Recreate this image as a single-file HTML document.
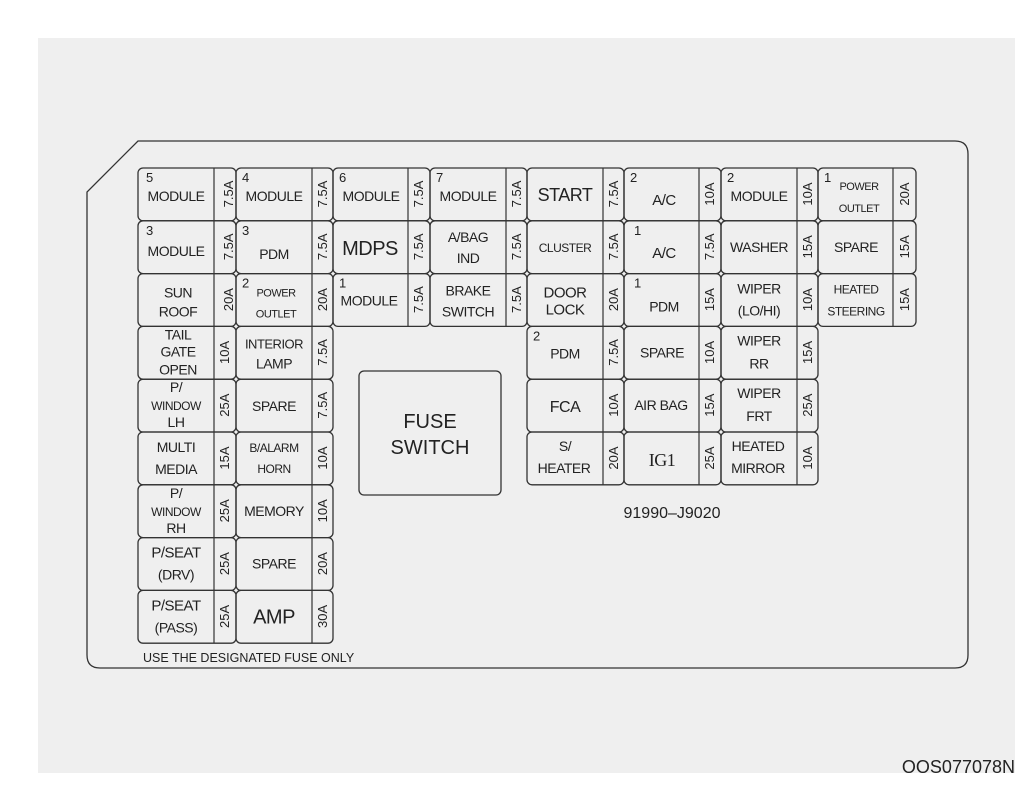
<!DOCTYPE html>
<html><head><meta charset="utf-8"><style>
html,body{margin:0;padding:0;background:#fff;}
svg{display:block;}
text{font-family:"Liberation Sans",sans-serif;fill:#222;}
.l{font-size:14px;text-anchor:middle;letter-spacing:-0.5px}
.s{font-size:13px}
.r{font-size:13px;text-anchor:middle}
rect.c{fill:none;stroke:#333;stroke-width:1.3}
line{stroke:#333;stroke-width:1.2}
</style></head><body>
<svg width="1029" height="803" viewBox="0 0 1029 803" xmlns="http://www.w3.org/2000/svg">
<rect x="38" y="38" width="977" height="735" fill="#efefef"/>
<path d="M138,141 L955,141 Q968,141 968,154 L968,655 Q968,668 955,668 L100,668 Q87,668 87,655 L87,192 Z" fill="none" stroke="#333" stroke-width="1.3"/>

<!-- ROW 0 (y=168) -->
<g transform="translate(138,168)"><rect class="c" width="98" height="52.8" rx="5"/><line x1="76" y1="0" x2="76" y2="52.8"/><text class="s" x="8" y="14">5</text><text class="l" x="38" y="33">MODULE</text><text class="r" transform="translate(91,26) rotate(-90)" y="4">7.5A</text></g>
<g transform="translate(236,168)"><rect class="c" width="97" height="52.8" rx="5"/><line x1="76" y1="0" x2="76" y2="52.8"/><text class="s" x="6" y="14">4</text><text class="l" x="38" y="33">MODULE</text><text class="r" transform="translate(87,26) rotate(-90)" y="4">7.5A</text></g>
<g transform="translate(333,168)"><rect class="c" width="97" height="52.8" rx="5"/><line x1="75" y1="0" x2="75" y2="52.8"/><text class="s" x="6" y="14">6</text><text class="l" x="38" y="33">MODULE</text><text class="r" transform="translate(86,26) rotate(-90)" y="4">7.5A</text></g>
<g transform="translate(430,168)"><rect class="c" width="97" height="52.8" rx="5"/><line x1="76" y1="0" x2="76" y2="52.8"/><text class="s" x="6" y="14">7</text><text class="l" x="38" y="33">MODULE</text><text class="r" transform="translate(87,26) rotate(-90)" y="4">7.5A</text></g>
<g transform="translate(527,168)"><rect class="c" width="97" height="52.8" rx="5"/><line x1="76" y1="0" x2="76" y2="52.8"/><text class="l" x="38" y="33" style="font-size:18px">START</text><text class="r" transform="translate(87,26) rotate(-90)" y="4">7.5A</text></g>
<g transform="translate(624,168)"><rect class="c" width="97" height="52.8" rx="5"/><line x1="75" y1="0" x2="75" y2="52.8"/><text class="s" x="6" y="14">2</text><text class="l" x="40" y="37" style="font-size:15px">A/C</text><text class="r" transform="translate(86,26) rotate(-90)" y="4">10A</text></g>
<g transform="translate(721,168)"><rect class="c" width="97" height="52.8" rx="5"/><line x1="76" y1="0" x2="76" y2="52.8"/><text class="s" x="6" y="14">2</text><text class="l" x="38" y="33">MODULE</text><text class="r" transform="translate(87,26) rotate(-90)" y="4">10A</text></g>
<g transform="translate(818,168)"><rect class="c" width="98" height="52.8" rx="5"/><line x1="75" y1="0" x2="75" y2="52.8"/><text class="s" x="6" y="14">1</text><text class="l" x="41" y="22" style="font-size:11px">POWER</text><text class="l" x="41" y="44" style="font-size:11px">OUTLET</text><text class="r" transform="translate(87,26) rotate(-90)" y="4">20A</text></g>

<!-- ROW 1 (y=220.8) -->
<g transform="translate(138,220.8)"><rect class="c" width="98" height="52.8" rx="5"/><line x1="76" y1="0" x2="76" y2="52.8"/><text class="s" x="8" y="14">3</text><text class="l" x="38" y="35">MODULE</text><text class="r" transform="translate(91,26) rotate(-90)" y="4">7.5A</text></g>
<g transform="translate(236,220.8)"><rect class="c" width="97" height="52.8" rx="5"/><line x1="76" y1="0" x2="76" y2="52.8"/><text class="s" x="6" y="14">3</text><text class="l" x="38" y="38">PDM</text><text class="r" transform="translate(87,26) rotate(-90)" y="4">7.5A</text></g>
<g transform="translate(333,220.8)"><rect class="c" width="97" height="52.8" rx="5"/><line x1="75" y1="0" x2="75" y2="52.8"/><text class="l" x="37" y="34" style="font-size:20px">MDPS</text><text class="r" transform="translate(86,26) rotate(-90)" y="4">7.5A</text></g>
<g transform="translate(430,220.8)"><rect class="c" width="97" height="52.8" rx="5"/><line x1="76" y1="0" x2="76" y2="52.8"/><text class="l" x="38" y="21">A/BAG</text><text class="l" x="38" y="42">IND</text><text class="r" transform="translate(87,26) rotate(-90)" y="4">7.5A</text></g>
<g transform="translate(527,220.8)"><rect class="c" width="97" height="52.8" rx="5"/><line x1="76" y1="0" x2="76" y2="52.8"/><text class="l" x="38" y="31" style="font-size:12px">CLUSTER</text><text class="r" transform="translate(87,26) rotate(-90)" y="4">7.5A</text></g>
<g transform="translate(624,220.8)"><rect class="c" width="97" height="52.8" rx="5"/><line x1="75" y1="0" x2="75" y2="52.8"/><text class="s" x="10" y="14">1</text><text class="l" x="40" y="37" style="font-size:15px">A/C</text><text class="r" transform="translate(86,26) rotate(-90)" y="4">7.5A</text></g>
<g transform="translate(721,220.8)"><rect class="c" width="97" height="52.8" rx="5"/><line x1="76" y1="0" x2="76" y2="52.8"/><text class="l" x="38" y="31">WASHER</text><text class="r" transform="translate(87,26) rotate(-90)" y="4">15A</text></g>
<g transform="translate(818,220.8)"><rect class="c" width="98" height="52.8" rx="5"/><line x1="75" y1="0" x2="75" y2="52.8"/><text class="l" x="38" y="31">SPARE</text><text class="r" transform="translate(87,26) rotate(-90)" y="4">15A</text></g>

<!-- ROW 2 (y=273.6) -->
<g transform="translate(138,273.6)"><rect class="c" width="98" height="52.8" rx="5"/><line x1="76" y1="0" x2="76" y2="52.8"/><text class="l" x="40" y="24">SUN</text><text class="l" x="40" y="43">ROOF</text><text class="r" transform="translate(91,26) rotate(-90)" y="4">20A</text></g>
<g transform="translate(236,273.6)"><rect class="c" width="97" height="52.8" rx="5"/><line x1="76" y1="0" x2="76" y2="52.8"/><text class="s" x="6" y="14">2</text><text class="l" x="40" y="23" style="font-size:11px">POWER</text><text class="l" x="40" y="44" style="font-size:11px">OUTLET</text><text class="r" transform="translate(87,26) rotate(-90)" y="4">20A</text></g>
<g transform="translate(333,273.6)"><rect class="c" width="97" height="52.8" rx="5"/><line x1="75" y1="0" x2="75" y2="52.8"/><text class="s" x="6" y="14">1</text><text class="l" x="36" y="32">MODULE</text><text class="r" transform="translate(86,26) rotate(-90)" y="4">7.5A</text></g>
<g transform="translate(430,273.6)"><rect class="c" width="97" height="52.8" rx="5"/><line x1="76" y1="0" x2="76" y2="52.8"/><text class="l" x="38" y="22">BRAKE</text><text class="l" x="38" y="43">SWITCH</text><text class="r" transform="translate(87,26) rotate(-90)" y="4">7.5A</text></g>
<g transform="translate(527,273.6)"><rect class="c" width="97" height="52.8" rx="5"/><line x1="76" y1="0" x2="76" y2="52.8"/><text class="l" x="38" y="24" style="font-size:15px">DOOR</text><text class="l" x="38" y="41" style="font-size:15px">LOCK</text><text class="r" transform="translate(87,26) rotate(-90)" y="4">20A</text></g>
<g transform="translate(624,273.6)"><rect class="c" width="97" height="52.8" rx="5"/><line x1="75" y1="0" x2="75" y2="52.8"/><text class="s" x="10" y="14">1</text><text class="l" x="40" y="38">PDM</text><text class="r" transform="translate(86,26) rotate(-90)" y="4">15A</text></g>
<g transform="translate(721,273.6)"><rect class="c" width="97" height="52.8" rx="5"/><line x1="76" y1="0" x2="76" y2="52.8"/><text class="l" x="38" y="20">WIPER</text><text class="l" x="38" y="42">(LO/HI)</text><text class="r" transform="translate(87,26) rotate(-90)" y="4">10A</text></g>
<g transform="translate(818,273.6)"><rect class="c" width="98" height="52.8" rx="5"/><line x1="75" y1="0" x2="75" y2="52.8"/><text class="l" x="38" y="20" style="font-size:12px">HEATED</text><text class="l" x="38" y="42" style="font-size:12px">STEERING</text><text class="r" transform="translate(87,26) rotate(-90)" y="4">15A</text></g>

<!-- ROW 3 (y=326.4) -->
<g transform="translate(138,326.4)"><rect class="c" width="98" height="52.8" rx="5"/><line x1="76" y1="0" x2="76" y2="52.8"/><text class="l" x="40" y="13">TAIL</text><text class="l" x="40" y="30">GATE</text><text class="l" x="40" y="48">OPEN</text><text class="r" transform="translate(87,26) rotate(-90)" y="4">10A</text></g>
<g transform="translate(236,326.4)"><rect class="c" width="97" height="52.8" rx="5"/><line x1="76" y1="0" x2="76" y2="52.8"/><text class="l" x="38" y="22" style="font-size:13px">INTERIOR</text><text class="l" x="38" y="42">LAMP</text><text class="r" transform="translate(87,26) rotate(-90)" y="4">7.5A</text></g>
<g transform="translate(527,326.4)"><rect class="c" width="97" height="52.8" rx="5"/><line x1="76" y1="0" x2="76" y2="52.8"/><text class="s" x="6" y="14">2</text><text class="l" x="38" y="32">PDM</text><text class="r" transform="translate(87,26) rotate(-90)" y="4">7.5A</text></g>
<g transform="translate(624,326.4)"><rect class="c" width="97" height="52.8" rx="5"/><line x1="75" y1="0" x2="75" y2="52.8"/><text class="l" x="38" y="31">SPARE</text><text class="r" transform="translate(86,26) rotate(-90)" y="4">10A</text></g>
<g transform="translate(721,326.4)"><rect class="c" width="97" height="52.8" rx="5"/><line x1="76" y1="0" x2="76" y2="52.8"/><text class="l" x="38" y="19">WIPER</text><text class="l" x="38" y="42">RR</text><text class="r" transform="translate(87,26) rotate(-90)" y="4">15A</text></g>

<!-- ROW 4 (y=379.2) -->
<g transform="translate(138,379.2)"><rect class="c" width="98" height="52.8" rx="5"/><line x1="76" y1="0" x2="76" y2="52.8"/><text class="l" x="38" y="13">P/</text><text class="l" x="38" y="31" style="font-size:12px">WINDOW</text><text class="l" x="38" y="48">LH</text><text class="r" transform="translate(87,26) rotate(-90)" y="4">25A</text></g>
<g transform="translate(236,379.2)"><rect class="c" width="97" height="52.8" rx="5"/><line x1="76" y1="0" x2="76" y2="52.8"/><text class="l" x="38" y="32">SPARE</text><text class="r" transform="translate(87,26) rotate(-90)" y="4">7.5A</text></g>
<g transform="translate(527,379.2)"><rect class="c" width="97" height="52.8" rx="5"/><line x1="76" y1="0" x2="76" y2="52.8"/><text class="l" x="38" y="33" style="font-size:16px">FCA</text><text class="r" transform="translate(87,26) rotate(-90)" y="4">10A</text></g>
<g transform="translate(624,379.2)"><rect class="c" width="97" height="52.8" rx="5"/><line x1="75" y1="0" x2="75" y2="52.8"/><text class="l" x="37" y="31">AIR BAG</text><text class="r" transform="translate(86,26) rotate(-90)" y="4">15A</text></g>
<g transform="translate(721,379.2)"><rect class="c" width="97" height="52.8" rx="5"/><line x1="76" y1="0" x2="76" y2="52.8"/><text class="l" x="38" y="19">WIPER</text><text class="l" x="38" y="42">FRT</text><text class="r" transform="translate(87,26) rotate(-90)" y="4">25A</text></g>

<!-- ROW 5 (y=432) -->
<g transform="translate(138,432)"><rect class="c" width="98" height="52.8" rx="5"/><line x1="76" y1="0" x2="76" y2="52.8"/><text class="l" x="38" y="20">MULTI</text><text class="l" x="38" y="42">MEDIA</text><text class="r" transform="translate(87,26) rotate(-90)" y="4">15A</text></g>
<g transform="translate(236,432)"><rect class="c" width="97" height="52.8" rx="5"/><line x1="76" y1="0" x2="76" y2="52.8"/><text class="l" x="38" y="20" style="font-size:12px">B/ALARM</text><text class="l" x="38" y="41" style="font-size:12px">HORN</text><text class="r" transform="translate(87,26) rotate(-90)" y="4">10A</text></g>
<g transform="translate(527,432)"><rect class="c" width="97" height="52.8" rx="5"/><line x1="76" y1="0" x2="76" y2="52.8"/><text class="l" x="38" y="19">S/</text><text class="l" x="37" y="41">HEATER</text><text class="r" transform="translate(87,26) rotate(-90)" y="4">20A</text></g>
<g transform="translate(624,432)"><rect class="c" width="97" height="52.8" rx="5"/><line x1="75" y1="0" x2="75" y2="52.8"/><text class="l" x="38" y="34" style="font-size:18px;font-family:'Liberation Serif',serif">IG1</text><text class="r" transform="translate(86,26) rotate(-90)" y="4">25A</text></g>
<g transform="translate(721,432)"><rect class="c" width="97" height="52.8" rx="5"/><line x1="76" y1="0" x2="76" y2="52.8"/><text class="l" x="37" y="19">HEATED</text><text class="l" x="37" y="41">MIRROR</text><text class="r" transform="translate(87,26) rotate(-90)" y="4">10A</text></g>

<!-- ROW 6-8 left -->
<g transform="translate(138,484.8)"><rect class="c" width="98" height="52.8" rx="5"/><line x1="76" y1="0" x2="76" y2="52.8"/><text class="l" x="38" y="13">P/</text><text class="l" x="38" y="31" style="font-size:12px">WINDOW</text><text class="l" x="38" y="48">RH</text><text class="r" transform="translate(87,26) rotate(-90)" y="4">25A</text></g>
<g transform="translate(236,484.8)"><rect class="c" width="97" height="52.8" rx="5"/><line x1="76" y1="0" x2="76" y2="52.8"/><text class="l" x="38" y="31">MEMORY</text><text class="r" transform="translate(87,26) rotate(-90)" y="4">10A</text></g>
<g transform="translate(138,537.6)"><rect class="c" width="98" height="52.8" rx="5"/><line x1="76" y1="0" x2="76" y2="52.8"/><text class="l" x="38" y="20" style="font-size:15px">P/SEAT</text><text class="l" x="38" y="42">(DRV)</text><text class="r" transform="translate(87,26) rotate(-90)" y="4">25A</text></g>
<g transform="translate(236,537.6)"><rect class="c" width="97" height="52.8" rx="5"/><line x1="76" y1="0" x2="76" y2="52.8"/><text class="l" x="38" y="31">SPARE</text><text class="r" transform="translate(87,26) rotate(-90)" y="4">20A</text></g>
<g transform="translate(138,590.4)"><rect class="c" width="98" height="52.8" rx="5"/><line x1="76" y1="0" x2="76" y2="52.8"/><text class="l" x="38" y="20" style="font-size:15px">P/SEAT</text><text class="l" x="38" y="42">(PASS)</text><text class="r" transform="translate(87,26) rotate(-90)" y="4">25A</text></g>
<g transform="translate(236,590.4)"><rect class="c" width="97" height="52.8" rx="5"/><line x1="76" y1="0" x2="76" y2="52.8"/><text class="l" x="38" y="33" style="font-size:20px">AMP</text><text class="r" transform="translate(87,26) rotate(-90)" y="4">30A</text></g>

<!-- Fuse switch -->
<rect class="c" x="359" y="371" width="142" height="124" rx="5"/>
<text class="l" x="430" y="428" style="font-size:20px;letter-spacing:0">FUSE</text>
<text class="l" x="430" y="454" style="font-size:20px;letter-spacing:0">SWITCH</text>

<text class="l" x="672" y="518" style="font-size:16px;letter-spacing:0">91990–J9020</text>
<text x="143" y="662" style="font-size:12.5px">USE THE DESIGNATED FUSE ONLY</text>
<text x="1015" y="773" style="font-size:18px;text-anchor:end">OOS077078N</text>
</svg>
</body></html>
